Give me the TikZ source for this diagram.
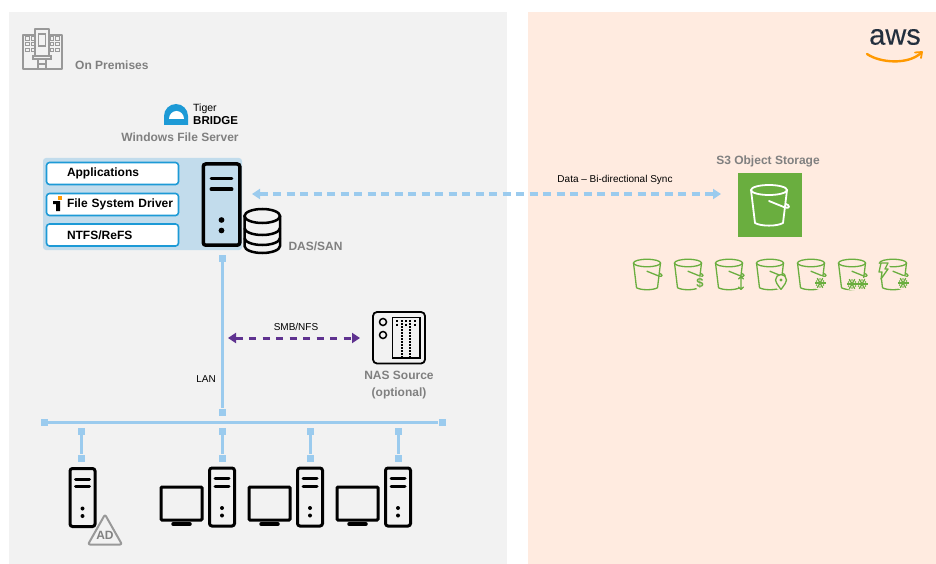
\documentclass[tikz,border=0pt]{standalone}
\usepackage{fontspec}
\setmainfont{Liberation Sans}
\newfontfamily\awsfont[FakeBold=0.25]{Liberation Sans}
\usetikzlibrary{arrows.meta}
\definecolor{premgray}{HTML}{F2F2F2}
\definecolor{awspeach}{HTML}{FFEBE0}
\definecolor{boxblue}{HTML}{C2DCEC}
\definecolor{tigerblue}{HTML}{1D9AD6}
\definecolor{linkblue}{HTML}{9BCBEE}
\definecolor{labelgray}{HTML}{808080}
\definecolor{icongray}{HTML}{999999}
\definecolor{s3green}{HTML}{6AAE3F}
\definecolor{nfspurple}{HTML}{5F3290}
\definecolor{awsink}{HTML}{232F3E}
\definecolor{awsorange}{HTML}{FF9900}
\tikzset{
  toolbox/.style={draw=tigerblue,line width=1.6pt,fill=white,rounded corners=3pt,minimum height=22pt,inner sep=0pt,text=black,font=\fontsize{12}{14}\selectfont\bfseries,text width=132pt,align=left,execute at begin node=\hspace*{20.5pt}},
  graylabel/.style={text=labelgray,font=\fontsize{12}{14}\selectfont\bfseries,inner sep=0pt,align=center},
  smalllabel/.style={text=black,font=\fontsize{10}{12}\selectfont,inner sep=0pt},
  endsq/.style={fill=linkblue,minimum size=7pt,inner sep=0pt},
  lanline/.style={draw=linkblue,line width=3pt},
  syncarrow/.style={draw=linkblue,line width=3.4pt,dash pattern=on 8pt off 5.5pt,{Triangle[length=8pt,width=10pt]}-{Triangle[length=8pt,width=10pt]}},
  nfsarrow/.style={draw=nfspurple,line width=3pt,dash pattern=on 7pt off 6.5pt,{Triangle[length=8pt,width=10pt]}-{Triangle[length=8pt,width=10pt]}},
  servericon/.pic={
    \draw[pic actions,rounded corners=2.5pt] (-12.5,0) rectangle (12.5,58);
    \draw[line cap=round,pic actions] (-7,10.5) -- (7,10.5) (-7,18) -- (7,18);
    \fill[black] (0,40) circle (2pt) (0,47.5) circle (2pt);
  },
  monitoricon/.pic={
    \draw[line width=3pt,rounded corners=1pt] (0,0) rectangle (41,33);
    \draw[line width=3.5pt,line cap=round] (12,37) -- (29,37);
  },
  bucketicon/.pic={
    \draw[pic actions] (0,0) ellipse [x radius=18,y radius=5];
    \draw[pic actions,line join=round] (-18,0) -- (-14,33) .. controls (-8,36.5) and (8,36.5) .. (14,33) -- (18,0);
    \draw[pic actions,line cap=round] (0,11) -- (16,17.5) .. controls (21,19) and (21,15) .. (17,14);
  },
  flakeicon/.pic={
    \foreach \a in {0,60,120} \draw[s3green,line width=1.3pt] (\a:5.5) -- (\a+180:5.5);
    \foreach \a in {30,90,150,210,270,330} \fill[s3green] (\a:4) circle (.8pt);
  }
}
\begin{document}
\begin{tikzpicture}[x=1pt,y=-1pt]
\useasboundingbox (0,0) rectangle (936,564);
% panels
\fill[premgray] (9,12) rectangle (507,564);
\fill[awspeach] (528,12) rectangle (936,564);
% building
\draw[icongray,line width=1.1pt,line join=round] (35,35) -- (23,35) -- (23,69) -- (62,69) -- (62,35) -- (49,35) -- (49,29) -- (35,29) -- (35,56);
\draw[icongray,line width=1.1pt] (49,35) -- (49,56) (33,56) rectangle (51,59) (38,59) -- (38,69) (46,59) -- (46,69) (38,64) -- (46,64) (38.5,34) rectangle (45.5,46);
\foreach \x in {27.5,33,52,57.5} \foreach \y in {38.5,44,50}
  \draw[icongray,line width=.7pt] (\x-1.8,\y-1.8) rectangle (\x+1.8,\y+1.8);
\node[graylabel,anchor=west] (prem) at (75,65) {On Premises};
% tiger bridge logo
\fill[tigerblue] (164,125) -- (164,116) arc[start angle=180,end angle=360,radius=12] -- (188,125) -- cycle;
\fill[white] (169,119) arc[start angle=180,end angle=360,x radius=7.5,y radius=8] -- cycle;
\node[inner sep=0pt,anchor=west,font=\fontsize{10.5}{12}\selectfont] (tiger) at (193,109) {Tiger};
\node[inner sep=0pt,anchor=west,font=\fontsize{11.5}{14}\selectfont\bfseries] (bridge) at (193,121) {BRIDGE};
\node[graylabel] (wfs) at (180,137) {Windows File Server};
% server group
\fill[boxblue,rounded corners=3pt] (43,158) rectangle (242,250);
\node[toolbox] (apps) at (112.5,173.5) {Applications};
\node[toolbox] (fsd) at (112.5,204.5) {File System Driver};
\node[toolbox] (ntfs) at (112.5,235) {NTFS/ReFS};
\fill[black] (53,201) -- (60,201) -- (60,211) -- (56,211) -- (56,204) -- (53,204) -- cycle;
\fill[awsorange] (58,196) rectangle (62,200);
\pic[line width=3.5pt,fill=boxblue,xscale=1.46,yscale=1.4] (srv) at (221.5,164) {servericon};
% disks
\draw[line width=2.5pt,fill=premgray] (244.5,216) -- (244.5,246) arc[start angle=180,end angle=0,x radius=17.75,y radius=7] -- (280,216);
\draw[line width=2.5pt] (244.5,228) arc[start angle=180,end angle=0,x radius=17.75,y radius=7] (244.5,238) arc[start angle=180,end angle=0,x radius=17.75,y radius=7];
\draw[line width=2.5pt] (262.25,216) ellipse [x radius=17.75,y radius=7];
\node[graylabel] (das) at (315.5,246.5) {DAS/SAN};
% sync link
\coordinate (syncl) at (252,194);
\coordinate (syncr) at (721,194);
\draw[syncarrow] (syncl) -- (syncr);
\node[smalllabel] (synctxt) at (615,180) {Data – Bi-directional Sync};
% s3
\node[graylabel] (s3txt) at (768,161) {S3 Object Storage};
\node[fill=s3green,minimum size=64pt,inner sep=0pt] (s3box) at (770,205) {};
\pic[draw=white,line width=1.8pt] (bigb) at (769,190) {bucketicon};
\foreach \x in {647,688,729,770,811,852,893}
  \pic[draw=s3green,line width=1.3pt,scale=.75] (b\x) at (\x,263) {bucketicon};
% bucket badges
\fill[awspeach] (700,283) circle (6.5);
\node[text=s3green,inner sep=0pt,font=\fontsize{13}{14}\selectfont\bfseries] (dollar) at (700,283) {\$};
\fill[awspeach] (741,283) circle (5.5);
\draw[s3green,line width=1.3pt,line cap=round,line join=round] (741,277) -- (741,289) (738.5,279) -- (741,276.5) -- (743.5,279) (738.5,287) -- (741,289.5) -- (743.5,287);
\fill[awspeach] (781,283) circle (7);
\draw[s3green,line width=1.3pt,fill=awspeach] (781,289.5) .. controls (777,284) and (775.5,282) .. (775.5,280) arc[start angle=180,end angle=360,radius=5.5] .. controls (786.5,282) and (785,284) .. (781,289.5);
\fill[s3green] (781,280) circle (1.6);
\fill[awspeach] (820,283) circle (7);
\pic at (820,283) {flakeicon};
\fill[awspeach] (857,284) ellipse [x radius=13,y radius=7];
\pic at (852,284) {flakeicon};
\pic at (862,284) {flakeicon};
\fill[awspeach] (903,283) circle (7);
\pic at (903,283) {flakeicon};
\fill[awspeach] (883,271) circle (8);
\draw[s3green,line width=1.3pt,line join=round,fill=awspeach] (881,263) -- (888,263) -- (885,269) -- (888,269) -- (881,279) -- (882,272) -- (879,272) -- cycle;
% aws
\node[inner sep=0pt,text=awsink,font=\awsfont\fontsize{29}{30}\selectfont] (awstxt) at (895,37) {aws};
\draw[draw=awsorange,line width=2.4pt,line cap=round] (867,54) .. controls (880,63) and (908,65) .. (921,53);
\draw[draw=awsorange,line width=1.8pt,line cap=round,line join=round] (915,52.5) -- (922,52) -- (921,58);
% lan
\node[endsq] (lantop) at (222,258) {};
\node[endsq] (lanbot) at (222,412) {};
\node[endsq] (busl) at (44,422) {};
\node[endsq] (busr) at (442,422) {};
\draw[lanline] (lantop) -- (lanbot);
\draw[lanline] (busl) -- (busr);
\node[smalllabel] (lantxt) at (206,379) {LAN};
\foreach \x in {81,222,310,398} {
  \node[endsq] (d\x) at (\x,431.5) {};
  \node[endsq] (e\x) at (\x,458) {};
  \draw[lanline] (d\x) -- (e\x);
}
% nas
\coordinate (nfsl) at (228,338);
\coordinate (nfsr) at (360,338);
\draw[nfsarrow] (nfsl) -- (nfsr);
\node[smalllabel] (nfstxt) at (296,327) {SMB/NFS};
\draw[line width=1.8pt,rounded corners=4pt] (373,312) rectangle (425,363.5);
\draw[line width=1.5pt] (383,322) circle (3.5) (383,335) circle (3.5);
\draw[line width=1.5pt] (392.5,317.5) rectangle (420,358);
\foreach \x in {402,410}
  \draw[line width=1.2pt,dash pattern=on 1.5pt off 1.5pt] (\x,320) -- (\x,358);
\foreach \x in {397,406,415}
  \draw[line width=1.2pt,dash pattern=on 2pt off 1.5pt] (\x,320) -- (\x,326);
\node[graylabel] (nastxt) at (399,385.5) {NAS Source\\[3pt](optional)};
% hosts
\pic[line width=3pt] (adsrv) at (82.5,468.5) {servericon};
\foreach \x in {222,310,398} \pic[line width=3pt] (h\x) at (\x,468) {servericon};
\foreach \x in {161,249,337} \pic (m\x) at (\x,487) {monitoricon};
\draw[icongray,fill=premgray,line width=2pt,line join=round,rounded corners=2pt] (105,514.5) -- (122,544.5) -- (88,544.5) -- cycle;
\node[text=labelgray,inner sep=0pt,font=\fontsize{12}{14}\selectfont\bfseries] (adtxt) at (105,535) {AD};
\end{tikzpicture}
\end{document}
